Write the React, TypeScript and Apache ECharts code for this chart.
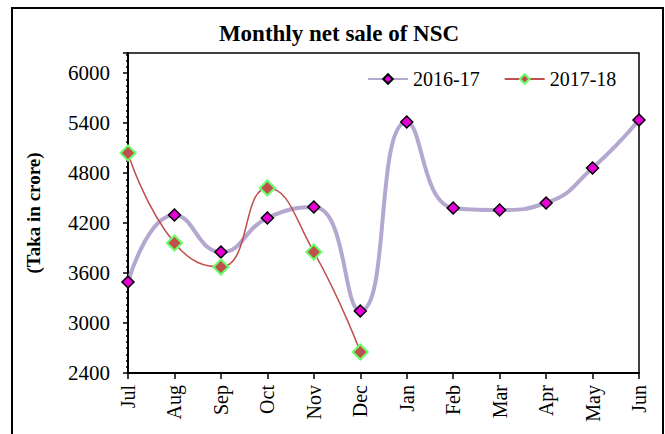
import React, { useEffect, useRef } from "react";
import * as echarts from "echarts";

const months = ["Jul", "Aug", "Sep", "Oct", "Nov", "Dec", "Jan", "Feb", "Mar", "Apr", "May", "Jun"];
const sales1617 = [3492, 4296, 3852, 4260, 4392, 3144, 5412, 4380, 4356, 4440, 4860, 5436];
const sales1718 = [5040, 3960, 3672, 4620, 3852, 2652];
const seriesNames = ["2016-17", "2017-18"];

const FONT = "'Liberation Serif', 'Times New Roman', serif";

export default function App() {
  const ref = useRef<HTMLDivElement>(null);
  useEffect(() => {
    if (!ref.current) return;
    const chart = echarts.init(ref.current, null, { renderer: "svg" });
    chart.setOption({
      animation: false,
      backgroundColor: "#ffffff",
      textStyle: { fontFamily: FONT },
      title: {
        text: "Monthly net sale of NSC",
        left: 334,
        textAlign: "center",
        top: 17,
        textStyle: { fontFamily: FONT, fontSize: 23, fontWeight: "bold", color: "#000" },
      },
      graphic: [
        {
          type: "rect",
          shape: { x: 12, y: 8, width: 651, height: 440 },
          style: { fill: "none", stroke: "#000", lineWidth: 2 },
          silent: true,
          z: 100,
        },
      ],
      legend: {
        left: 362,
        top: 64,
        itemWidth: 40,
        itemHeight: 12,
        itemGap: 24,
        data: seriesNames,
        textStyle: { fontFamily: FONT, fontSize: 20, color: "#000" },
      },
      grid: {
        left: 128,
        right: 26,
        top: 53,
        bottom: 61,
        show: true,
        borderColor: "#000",
        borderWidth: 1.5,
      },
      xAxis: {
        type: "category",
        data: months,
        boundaryGap: false,
        axisLine: { lineStyle: { color: "#000", width: 2 } },
        axisTick: { show: true, inside: false, length: 6, lineStyle: { color: "#000", width: 1.5 } },
        axisLabel: { rotate: 90, margin: 12, fontFamily: FONT, fontSize: 20, color: "#000" },
        splitLine: { show: false },
      },
      yAxis: {
        type: "value",
        min: 2400,
        max: 6240,
        interval: 600,
        name: "(Taka in crore)",
        nameLocation: "middle",
        nameGap: 85,
        nameTextStyle: { fontFamily: FONT, fontSize: 19, fontWeight: "bold", color: "#000" },
        axisLine: { show: true, lineStyle: { color: "#000", width: 2 } },
        axisTick: { show: true, inside: false, length: 5, lineStyle: { color: "#000", width: 1.5 } },
        minorTick: { show: true, splitNumber: 8, length: 2, lineStyle: { color: "#000", width: 1.5 } },
        axisLabel: {
          margin: 18,
          fontFamily: FONT,
          fontSize: 21,
          color: "#000",
          showMaxLabel: false,
          formatter: (v: number) => String(v),
        },
        splitLine: { show: false },
      },
      series: [
        {
          name: seriesNames[0],
          type: "line",
          data: sales1617,
          smooth: 0.5,
          symbol: "diamond",
          symbolSize: 12,
          lineStyle: { color: "#b4a7d0", width: 4 },
          itemStyle: { color: "#e600d6", borderColor: "#000", borderWidth: 1.5 },
          z: 2,
        },
        {
          name: seriesNames[1],
          type: "line",
          data: sales1718,
          smooth: 0.5,
          symbol: "diamond",
          symbolSize: 15,
          lineStyle: { color: "#c0504d", width: 1.5 },
          itemStyle: { color: "#c0504d", borderColor: "#66ff66", borderWidth: 2 },
          z: 3,
        },
      ],
    });
    return () => chart.dispose();
  }, []);
  return (
    <div
      ref={ref}
      style={{ position: "absolute", left: 0, top: 0, width: 665, height: 434 }}
    />
  );
}
